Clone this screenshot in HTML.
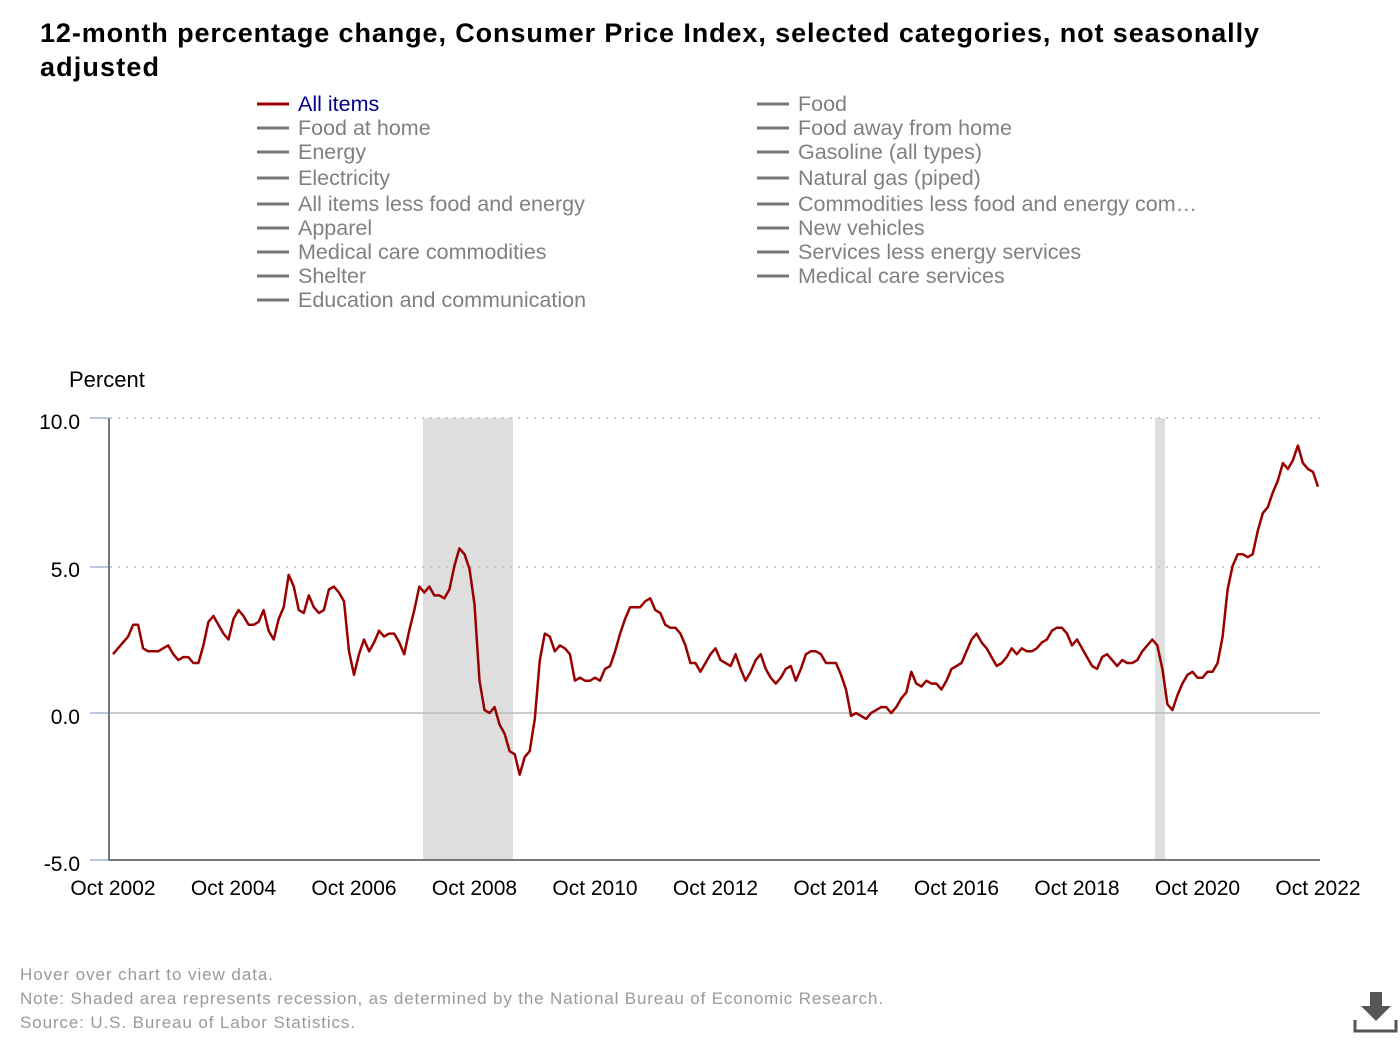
<!DOCTYPE html>
<html><head><meta charset="utf-8"><style>
body{margin:0;width:1400px;height:1040px;background:#fff;font-family:"Liberation Sans",sans-serif;overflow:hidden}
</style></head><body>
<svg width="1400" height="1040" xmlns="http://www.w3.org/2000/svg" font-family="Liberation Sans, sans-serif">
<text x="40" y="42" font-size="27" font-weight="bold" fill="#000" textLength="1219" lengthAdjust="spacing">12-month percentage change, Consumer Price Index, selected categories, not seasonally</text>
<text x="40" y="76" font-size="27" font-weight="bold" fill="#000" textLength="119" lengthAdjust="spacing">adjusted</text>
<g font-size="21.5" fill="#808080">
<line x1="257" x2="289" y1="104" y2="104" stroke="#990000" stroke-width="3"/><text x="298" y="111" fill="#00008b">All items</text>
<line x1="257" x2="289" y1="128" y2="128" stroke="#777" stroke-width="3"/><text x="298" y="135">Food at home</text>
<line x1="257" x2="289" y1="152" y2="152" stroke="#777" stroke-width="3"/><text x="298" y="159">Energy</text>
<line x1="257" x2="289" y1="178" y2="178" stroke="#777" stroke-width="3"/><text x="298" y="185">Electricity</text>
<line x1="257" x2="289" y1="204" y2="204" stroke="#777" stroke-width="3"/><text x="298" y="211">All items less food and energy</text>
<line x1="257" x2="289" y1="228" y2="228" stroke="#777" stroke-width="3"/><text x="298" y="235">Apparel</text>
<line x1="257" x2="289" y1="252" y2="252" stroke="#777" stroke-width="3"/><text x="298" y="259">Medical care commodities</text>
<line x1="257" x2="289" y1="276" y2="276" stroke="#777" stroke-width="3"/><text x="298" y="283">Shelter</text>
<line x1="257" x2="289" y1="300" y2="300" stroke="#777" stroke-width="3"/><text x="298" y="307">Education and communication</text>
<line x1="757" x2="789" y1="104" y2="104" stroke="#777" stroke-width="3"/><text x="798" y="111">Food</text>
<line x1="757" x2="789" y1="128" y2="128" stroke="#777" stroke-width="3"/><text x="798" y="135">Food away from home</text>
<line x1="757" x2="789" y1="152" y2="152" stroke="#777" stroke-width="3"/><text x="798" y="159">Gasoline (all types)</text>
<line x1="757" x2="789" y1="178" y2="178" stroke="#777" stroke-width="3"/><text x="798" y="185">Natural gas (piped)</text>
<line x1="757" x2="789" y1="204" y2="204" stroke="#777" stroke-width="3"/><text x="798" y="211">Commodities less food and energy com…</text>
<line x1="757" x2="789" y1="228" y2="228" stroke="#777" stroke-width="3"/><text x="798" y="235">New vehicles</text>
<line x1="757" x2="789" y1="252" y2="252" stroke="#777" stroke-width="3"/><text x="798" y="259">Services less energy services</text>
<line x1="757" x2="789" y1="276" y2="276" stroke="#777" stroke-width="3"/><text x="798" y="283">Medical care services</text>
</g>
<text x="69" y="387" font-size="22" fill="#000">Percent</text>
<rect x="423" y="418" width="90" height="442" fill="#dedede"/>
<rect x="1155" y="418" width="10" height="442" fill="#dedede"/>
<g stroke="#bbb" stroke-width="1.5" stroke-dasharray="2,6">
<line x1="110" x2="1320" y1="418" y2="418"/><line x1="110" x2="1320" y1="567" y2="567"/>
</g>
<line x1="110" x2="1320" y1="713" y2="713" stroke="#bbb" stroke-width="1.5"/>
<g stroke="#b8c8e0" stroke-width="2">
<line x1="90" x2="108" y1="418" y2="418"/><line x1="90" x2="108" y1="567" y2="567"/><line x1="90" x2="108" y1="713" y2="713"/><line x1="90" x2="108" y1="860" y2="860"/>
</g>
<line x1="109" x2="109" y1="418" y2="861" stroke="#777" stroke-width="2"/>
<line x1="109" x2="1320" y1="860" y2="860" stroke="#777" stroke-width="2"/>
<g font-size="21" fill="#000" text-anchor="end">
<text x="80" y="429">10.0</text><text x="80" y="577">5.0</text><text x="80" y="724">0.0</text><text x="80" y="871">-5.0</text>
</g>
<g font-size="21" fill="#000" text-anchor="middle" id="xl"></g>
<path id="ln" fill="none" stroke="#990000" stroke-width="2.5" stroke-linejoin="round"/>
<g font-size="17" fill="#999">
<text x="20" y="980" textLength="253" lengthAdjust="spacing">Hover over chart to view data.</text>
<text x="20" y="1004" textLength="863" lengthAdjust="spacing">Note: Shaded area represents recession, as determined by the National Bureau of Economic Research.</text>
<text x="20" y="1028" textLength="335" lengthAdjust="spacing">Source: U.S. Bureau of Labor Statistics.</text>
</g>
<rect x="1370" y="992" width="12" height="14" fill="#555"/>
<polygon points="1361,1006 1391,1006 1376,1021" fill="#555"/>
<path d="M1355,1020 V1031 H1396 V1020" fill="none" stroke="#555" stroke-width="3"/>
</svg>
<script>
var d=[2.0,2.2,2.4,
2.6,3.0,3.0,2.2,2.1,2.1,2.1,2.2,2.3,2.0,1.8,1.9,
1.9,1.7,1.7,2.3,3.1,3.3,3.0,2.7,2.5,3.2,3.5,3.3,
3.0,3.0,3.1,3.5,2.8,2.5,3.2,3.6,4.7,4.3,3.5,3.4,
4.0,3.6,3.4,3.5,4.2,4.3,4.1,3.8,2.1,1.3,2.0,2.5,
2.1,2.4,2.8,2.6,2.7,2.7,2.4,2.0,2.8,3.5,4.3,4.1,
4.3,4.0,4.0,3.9,4.2,5.0,5.6,5.4,4.9,3.7,1.1,0.1,
0.0,0.2,-0.4,-0.7,-1.3,-1.4,-2.1,-1.5,-1.3,-0.2,1.8,2.7,
2.6,2.1,2.3,2.2,2.0,1.1,1.2,1.1,1.1,1.2,1.1,1.5,
1.6,2.1,2.7,3.2,3.6,3.6,3.6,3.8,3.9,3.5,3.4,3.0,
2.9,2.9,2.7,2.3,1.7,1.7,1.4,1.7,2.0,2.2,1.8,1.7,
1.6,2.0,1.5,1.1,1.4,1.8,2.0,1.5,1.2,1.0,1.2,1.5,
1.6,1.1,1.5,2.0,2.1,2.1,2.0,1.7,1.7,1.7,1.3,0.8,
-0.1,0.0,-0.1,-0.2,0.0,0.1,0.2,0.2,0.0,0.2,0.5,0.7,
1.4,1.0,0.9,1.1,1.0,1.0,0.8,1.1,1.5,1.6,1.7,2.1,
2.5,2.7,2.4,2.2,1.9,1.6,1.7,1.9,2.2,2.0,2.2,2.1,
2.1,2.2,2.4,2.5,2.8,2.9,2.9,2.7,2.3,2.5,2.2,1.9,
1.6,1.5,1.9,2.0,1.8,1.6,1.8,1.7,1.7,1.8,2.1,2.3,
2.5,2.3,1.5,0.3,0.1,0.6,1.0,1.3,1.4,1.2,1.2,1.4,
1.4,1.7,2.6,4.2,5.0,5.4,5.4,5.3,5.4,6.2,6.8,7.0,
7.5,7.9,8.5,8.3,8.6,9.1,8.5,8.3,8.2,7.7];
var p="";for(var i=0;i<d.length;i++){var x=113+i*(1318-113)/240,y=713-d[i]*29.4;p+=(i?"L":"M")+x.toFixed(1)+","+y.toFixed(1);}
document.getElementById("ln").setAttribute("d",p);
var g=document.getElementById("xl"),s="";for(var k=0;k<=10;k++){var x=113+k*24*(1318-113)/240;s+='<text x="'+x+'" y="895">Oct '+(2002+2*k)+'</text>';}
g.innerHTML=s;
</script>
</body></html>
